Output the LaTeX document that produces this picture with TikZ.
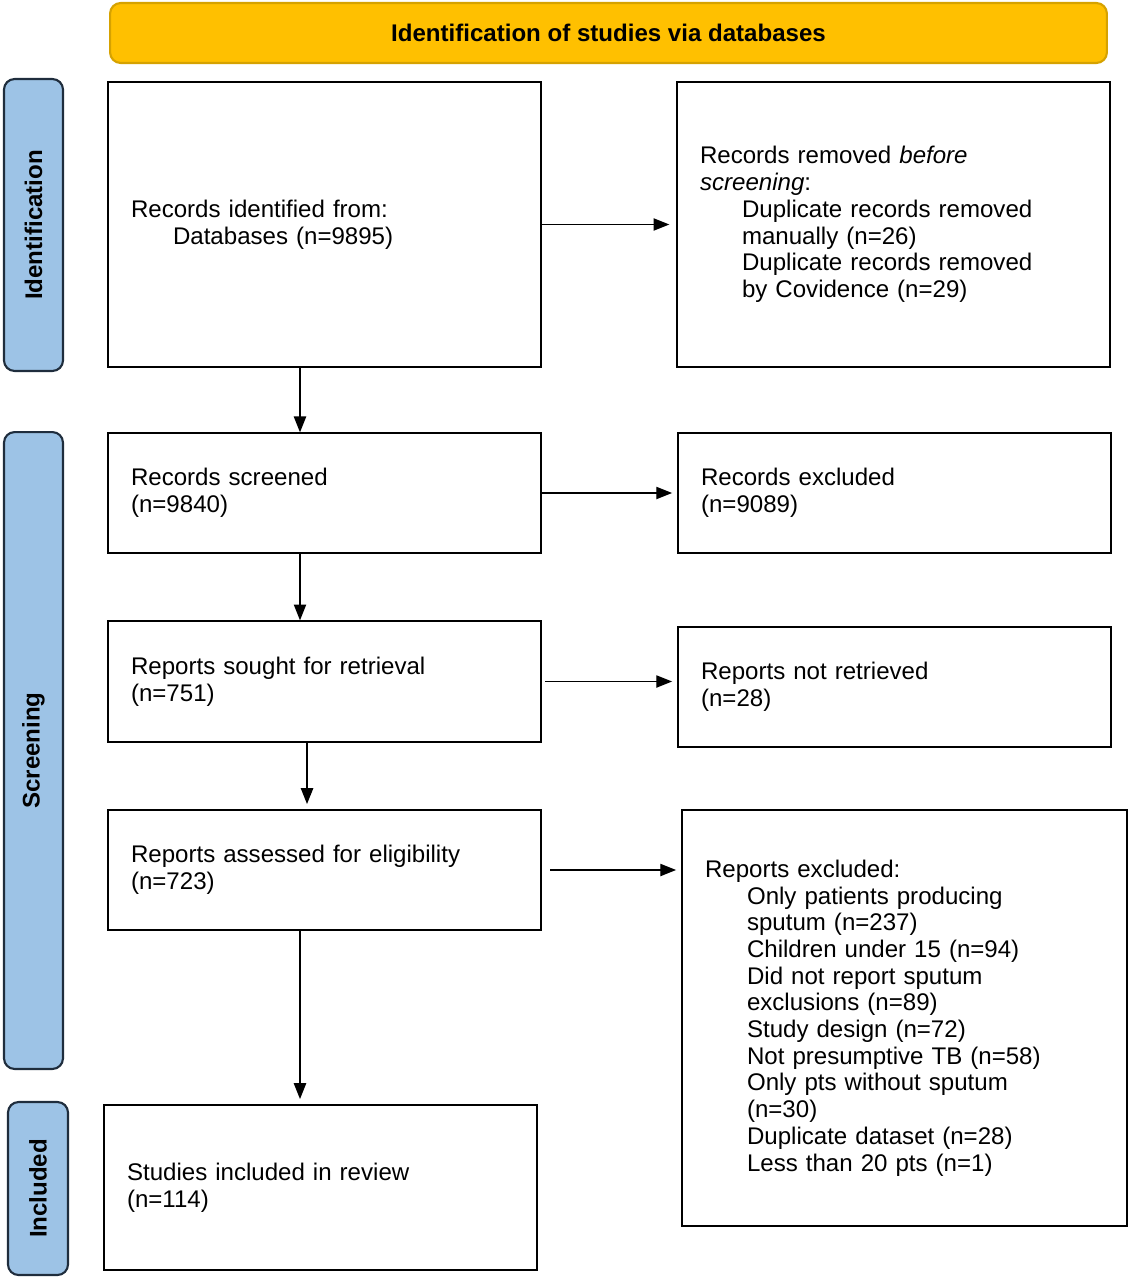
\documentclass[tikz,border=0pt]{standalone}
\usepackage{fontspec}
\setmainfont{Liberation Sans}
\usetikzlibrary{arrows.meta,positioning}
\definecolor{hdrgold}{HTML}{FFC000}
\definecolor{hdredge}{HTML}{D6A200}
\definecolor{sideblue}{HTML}{9DC3E6}
\definecolor{sideedge}{HTML}{1F2D3D}
\newcommand{\ind}{\hspace*{0.84cm}}

\begin{document}
\begin{tikzpicture}[x=0.02cm, y=-0.02cm, >={Triangle[length=9pt,width=7pt]}]
			\tikzset{box/.style = {draw, thick, rectangle, align=left, inner xsep=0.46cm, font=\fontsize{13.7}{15.2}\selectfont}}
			\tikzset{side/.style = {draw=sideedge, very thick, fill=sideblue, rounded corners=6pt, rotate=90, font=\bfseries\fontsize{13.7}{16}\selectfont}}
			\tikzset{arr/.style = {->, thick}}

			\useasboundingbox (0,0) rectangle (1131,1280);

			% header and side labels
			\node[draw=hdredge, very thick, fill=hdrgold, rounded corners=6pt, minimum width=19.94cm, minimum height=1.2cm, font=\bfseries\fontsize{13.7}{16}\selectfont] (hdr) at (608.5,33) {Identification of studies via databases};
			\node[side, minimum width=5.84cm, minimum height=1.18cm] (sid) at (33.5,225) {Identification};
			\node[side, minimum width=12.74cm, minimum height=1.18cm] (sscr) at (33.5,750.5) {Screening};
			\node[side, minimum width=3.46cm, minimum height=1.2cm] (sinc) at (38,1188.5) {Included};

			% boxes
			\node[box, text width=7.74cm, minimum height=5.7cm] (ident) at (324.5,224.5) {Records identified from:\\ \ind Databases (n=9895)};
			\node[box, text width=7.74cm, minimum height=5.7cm] (removed) at (893.5,224.5) {Records removed \textit{before}\\ \textit{screening}:\\ \ind Duplicate records removed\\ \ind manually (n=26)\\ \ind Duplicate records removed\\ \ind by Covidence (n=29)};
			\node[box, text width=7.74cm, minimum height=2.4cm] (screened) at (324.5,493) {Records screened\\ (n=9840)};
			\node[box, text width=7.74cm, minimum height=2.4cm] (excl) at (894.5,493) {Records excluded\\ (n=9089)};
			\node[box, text width=7.74cm, minimum height=2.42cm] (sought) at (324.5,681.5) {Reports sought for retrieval\\ (n=751)};
			\node[box, text width=7.74cm, minimum height=2.4cm] (notret) at (894.5,687) {Reports not retrieved\\ (n=28)};
			\node[box, text width=7.74cm, minimum height=2.4cm] (assess) at (324.5,870) {Reports assessed for eligibility\\ (n=723)};
			\node[box, text width=7.98cm, minimum height=8.32cm] (repexcl) at (904.5,1018) {Reports excluded:\\ \ind Only patients producing\\ \ind sputum (n=237)\\ \ind Children under 15 (n=94)\\ \ind Did not report sputum\\ \ind exclusions (n=89)\\ \ind Study design (n=72)\\ \ind Not presumptive TB (n=58)\\ \ind Only pts without sputum\\ \ind (n=30)\\ \ind Duplicate dataset (n=28)\\ \ind Less than 20 pts (n=1)};
			\node[box, text width=7.74cm, minimum height=3.3cm] (incl) at (320.5,1187.5) {Studies included in review\\ (n=114)};

			\coordinate (vx) at (300,0);

			% connectors
			\draw[arr, shorten >=4pt] (ident.east) -- (removed.west);
			\draw[arr, shorten >=3pt] (screened.east) -- (excl.west);
			\draw[arr, shorten >=3pt, shorten <=2pt] (sought.east) -- (sought.east -| notret.west);
			\draw[arr, shorten >=3pt, shorten <=5pt] (assess.east) -- (assess.east -| repexcl.west);
			\draw[arr] (ident.south -| vx) -- (screened.north -| vx);
			\draw[arr] (screened.south -| vx) -- (sought.north -| vx);
			\draw[arr, shorten >=3pt] ([xshift=4]sought.south -| vx) -- ([xshift=4]assess.north -| vx);
			\draw[arr, shorten >=3pt] (assess.south -| vx) -- (incl.north -| vx);
\end{tikzpicture}
\end{document}
